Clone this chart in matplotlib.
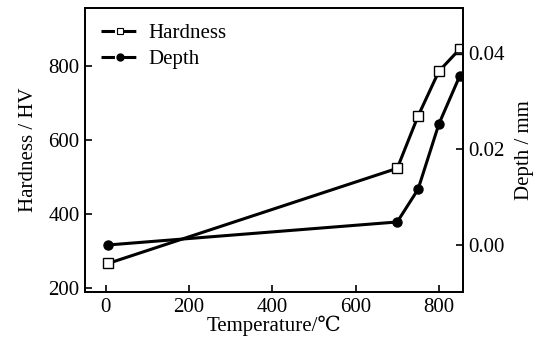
import matplotlib
matplotlib.use("Agg")
import matplotlib.pyplot as plt
from matplotlib.lines import Line2D

plt.rcParams['font.family'] = ['Liberation Serif', 'DejaVu Serif']
plt.rcParams['font.size'] = 15

temperature = [5, 700, 750, 800, 850]
hardness = [267, 524, 665, 786, 846]
depth = [0.0, 0.0048, 0.0116, 0.0252, 0.0352]

fig = plt.figure(figsize=(5.36, 3.38), dpi=100)
ax = fig.add_axes([0.1586, 0.1361, 0.7052, 0.8402])
ax2 = ax.twinx()

ax.plot(temperature, hardness, color='black', lw=2.2, marker='s', ms=6.5,
        mfc='white', mec='black', mew=1.0)
ax2.plot(temperature, depth, color='black', lw=2.2, marker='o', ms=6.5,
         mfc='black', mec='black')

ax.set_xlim(-50, 858)
ax.set_ylim(190, 957)
ax2.set_ylim(-0.0098, 0.0494)

ax.set_xticks([0, 200, 400, 600, 800])
ax.set_yticks([200, 400, 600, 800])
ax2.set_yticks([0.0, 0.02, 0.04])
ax2.set_yticklabels(['0.00', '0.02', '0.04'])

for a in (ax, ax2):
    a.tick_params(direction='in', length=5, width=1.2, pad=4)
    for s in a.spines.values():
        s.set_linewidth(1.3)

ax.set_xlabel('Temperature/℃', labelpad=-1)
ax.set_ylabel('Hardness / HV', labelpad=7)
ax2.set_ylabel('Depth / mm', labelpad=7)

# legend proxies: short segments with a gap round the marker
p1 = Line2D([], [], color='black', lw=2.2, marker='s', ms=4, mfc='white',
            mec='black', mew=0.8, dashes=(4.4, 2.6), dash_capstyle='butt')
p2 = Line2D([], [], color='black', lw=2.2, marker='o', ms=5, mfc='black',
            mec='black', dashes=(4.4, 2.6), dash_capstyle='butt')
ax.legend([p1, p2], ['Hardness', 'Depth'], loc='upper left', frameon=False,
          handlelength=1.85, handletextpad=0.45, labelspacing=0.3,
          borderaxespad=0.35, fontsize=15)

fig.savefig('out.png', dpi=100)
